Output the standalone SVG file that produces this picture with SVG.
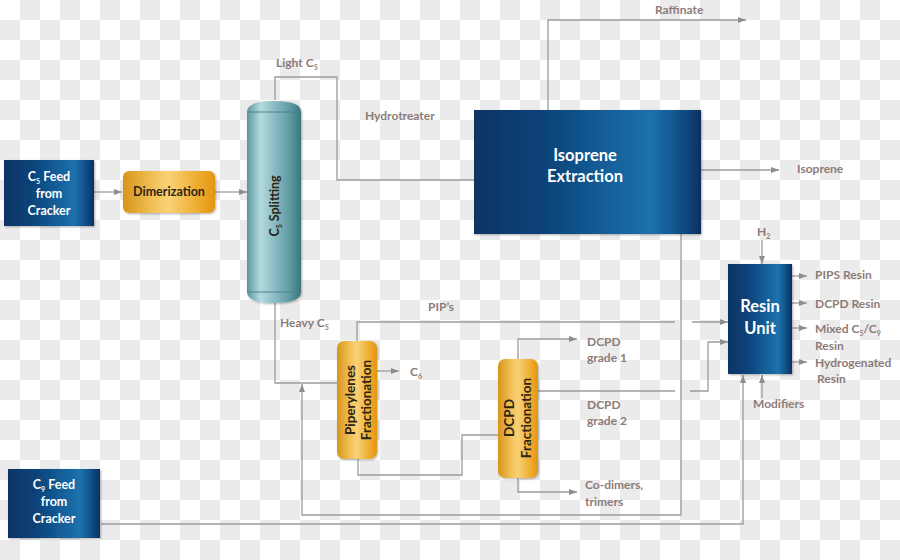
<svg xmlns="http://www.w3.org/2000/svg" width="900" height="560" viewBox="0 0 900 560">
<defs>
  <pattern id="checker" width="40" height="40" patternUnits="userSpaceOnUse">
    <rect width="40" height="40" fill="#ffffff"/>
    <rect x="20" y="0" width="20" height="20" fill="#ebebeb"/>
    <rect x="0" y="20" width="20" height="20" fill="#ebebeb"/>
  </pattern>
  <linearGradient id="blue" x1="0" y1="0" x2="1" y2="0">
    <stop offset="0" stop-color="#0b3464"/>
    <stop offset="0.3" stop-color="#0c4278"/>
    <stop offset="0.6" stop-color="#14609a"/>
    <stop offset="0.78" stop-color="#1d72ad"/>
    <stop offset="0.92" stop-color="#0f4c84"/>
    <stop offset="1" stop-color="#08305e"/>
  </linearGradient>
  <linearGradient id="orange" x1="0" y1="0" x2="1" y2="0">
    <stop offset="0" stop-color="#d7951c"/>
    <stop offset="0.35" stop-color="#f3c45c"/>
    <stop offset="0.5" stop-color="#f8d176"/>
    <stop offset="0.8" stop-color="#eeae32"/>
    <stop offset="1" stop-color="#e49512"/>
  </linearGradient>
  <linearGradient id="teal" x1="0" y1="0" x2="1" y2="0">
    <stop offset="0" stop-color="#5d969e"/>
    <stop offset="0.25" stop-color="#b3dade"/>
    <stop offset="0.45" stop-color="#93c4ca"/>
    <stop offset="0.8" stop-color="#5d99a1"/>
    <stop offset="1" stop-color="#3b747d"/>
  </linearGradient>
  <filter id="sh" x="-10%" y="-10%" width="130%" height="130%">
    <feDropShadow dx="1" dy="1" stdDeviation="1" flood-color="#000" flood-opacity="0.3"/>
  </filter>
  <marker id="arr" viewBox="0 0 8 6" refX="8" refY="3" markerWidth="8" markerHeight="6" markerUnits="userSpaceOnUse" orient="auto">
    <path d="M0,0 L8,3 L0,6 Z" fill="#8e8e8e"/>
  </marker>
  <style>
    .ln{fill:none;stroke:#9c9c9c;stroke-width:1.3}
    .ar{marker-end:url(#arr)}
    .lbl{font-family:Lato,"Open Sans","Liberation Sans",sans-serif;font-weight:700;font-size:12px;fill:#8c7c78}
    .wt{font-family:Lato,"Open Sans","Liberation Sans",sans-serif;font-weight:700;font-size:12.5px;fill:#ffffff;text-anchor:middle}
    .wtb{font-family:Lato,"Open Sans","Liberation Sans",sans-serif;font-weight:700;font-size:16.5px;fill:#ffffff;text-anchor:middle}
    .dk{font-family:Lato,"Open Sans","Liberation Sans",sans-serif;font-weight:700;font-size:12.5px;fill:#2e2414;text-anchor:middle}
    .rot{font-size:13.5px}
    .sub{font-size:7px}
  </style>
</defs>
<rect width="900" height="560" fill="url(#checker)"/>

<g id="connectors">
  <path class="ln ar" d="M94,192 H122"/>
  <path class="ln ar" d="M215,192 H247"/>
  <path class="ln" d="M275,100 V77 H337 V180 H474"/>
  <path class="ln ar" d="M548,110 V20 H746"/>
  <path class="ln ar" d="M701,170 H779"/>
  <path class="ln ar" d="M681,234 V515 H302 V384"/>
  <path class="ln" d="M275,303 V383 H337"/>
  <path class="ln" d="M357,341 V322 H675"/>
  <path class="ln ar" d="M692,322 H728"/>
  <path class="ln ar" d="M377,371 H399"/>
  <path class="ln" d="M358,459 V475 H462 V435 H498"/>
  <path class="ln ar" d="M518,359 V339 H577"/>
  <path class="ln" d="M538,391 H675"/>
  <path class="ln ar" d="M690,391 H708 V342 H728"/>
  <path class="ln ar" d="M518,478 V492 H577"/>
  <path class="ln ar" d="M101,524 H743 V375"/>
  <path class="ln ar" d="M762,240 V264"/>
  <path class="ln ar" d="M762,398 V375"/>
  <path class="ln ar" d="M792,276 H807"/>
  <path class="ln ar" d="M792,303 H807"/>
  <path class="ln ar" d="M792,328 H807"/>
  <path class="ln ar" d="M792,362 H807"/>
</g>

<g id="c5feed">
  <rect x="4" y="160" width="90" height="66" fill="url(#blue)" filter="url(#sh)"/>
  <text class="wt" x="49" y="181">C<tspan class="sub" dy="3">5</tspan><tspan dy="-3"> Feed</tspan></text>
  <text class="wt" x="49" y="198">from</text>
  <text class="wt" x="49" y="215">Cracker</text>
</g>

<g id="dimerization">
  <rect x="123" y="171" width="92" height="42" rx="6" fill="url(#orange)" filter="url(#sh)"/>
  <text class="dk" x="169" y="196">Dimerization</text>
</g>

<g id="c5splitting">
  <path d="M247,112 Q247,101 274,101 Q301,101 301,112 V292 Q301,303 274,303 Q247,303 247,292 Z" fill="url(#teal)" filter="url(#sh)"/>
  <path d="M247,112 H301 M247,292 H301" stroke="#4c8088" stroke-width="1" fill="none"/>
  <text class="dk" transform="rotate(-90 274 206)" x="274" y="211">C<tspan class="sub" dy="3">5</tspan><tspan dy="-3"> Splitting</tspan></text>
</g>

<g id="isoprene">
  <rect x="474" y="110" width="227" height="124" fill="url(#blue)" filter="url(#sh)"/>
  <text class="wtb" x="585" y="161">Isoprene</text>
  <text class="wtb" x="585" y="182">Extraction</text>
</g>

<g id="piperylenes">
  <rect x="337" y="341" width="40" height="118" rx="7" fill="url(#orange)" filter="url(#sh)"/>
  <text class="dk rot" transform="rotate(-90 357 400)" x="357" y="398">Piperylenes</text>
  <text class="dk rot" transform="rotate(-90 357 400)" x="357" y="414">Fractionation</text>
</g>

<g id="dcpd">
  <rect x="498" y="359" width="40" height="119" rx="7" fill="url(#orange)" filter="url(#sh)"/>
  <text class="dk rot" transform="rotate(-90 518 418)" x="518" y="414">DCPD</text>
  <text class="dk rot" transform="rotate(-90 518 418)" x="518" y="431">Fractionation</text>
</g>

<g id="resin">
  <rect x="728" y="264" width="64" height="110" fill="url(#blue)" filter="url(#sh)"/>
  <text class="wtb" x="760" y="312">Resin</text>
  <text class="wtb" x="760" y="334">Unit</text>
</g>

<g id="c9feed">
  <rect x="8" y="469" width="92" height="69" fill="url(#blue)" filter="url(#sh)"/>
  <text class="wt" x="54" y="489">C<tspan class="sub" dy="3">9</tspan><tspan dy="-3"> Feed</tspan></text>
  <text class="wt" x="54" y="506">from</text>
  <text class="wt" x="54" y="523">Cracker</text>
</g>

<g id="labels">
  <text class="lbl" x="276" y="67">Light C<tspan class="sub" dy="3">5</tspan></text>
  <text class="lbl" x="365" y="120">Hydrotreater</text>
  <text class="lbl" x="655" y="14">Raffinate</text>
  <text class="lbl" x="797" y="173">Isoprene</text>
  <text class="lbl" x="428" y="311">PIP’s</text>
  <text class="lbl" x="280" y="327">Heavy C<tspan class="sub" dy="3">5</tspan></text>
  <text class="lbl" x="410" y="376">C<tspan class="sub" dy="3">6</tspan></text>
  <text class="lbl" x="587" y="346">DCPD</text>
  <text class="lbl" x="587" y="362">grade 1</text>
  <text class="lbl" x="587" y="409">DCPD</text>
  <text class="lbl" x="587" y="425">grade 2</text>
  <text class="lbl" x="585" y="489">Co-dimers,</text>
  <text class="lbl" x="585" y="506">trimers</text>
  <text class="lbl" x="757" y="236">H<tspan class="sub" dy="3">2</tspan></text>
  <text class="lbl" x="815" y="279">PIPS Resin</text>
  <text class="lbl" x="815" y="308">DCPD Resin</text>
  <text class="lbl" x="815" y="333">Mixed C<tspan class="sub" dy="3">5</tspan><tspan dy="-3">/C</tspan><tspan class="sub" dy="3">9</tspan></text>
  <text class="lbl" x="815" y="350">Resin</text>
  <text class="lbl" x="815" y="367">Hydrogenated</text>
  <text class="lbl" x="817" y="383">Resin</text>
  <text class="lbl" x="753" y="408">Modifiers</text>
</g>
</svg>
